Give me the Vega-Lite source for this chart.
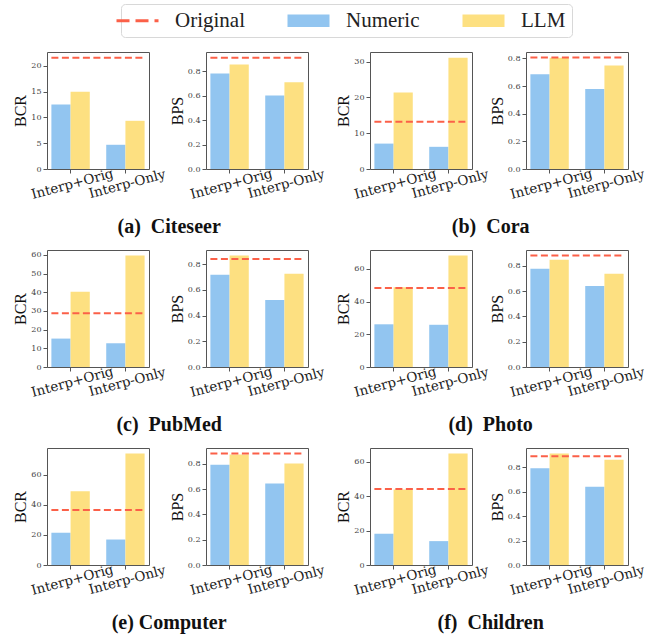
{
  "$schema": "https://vega.github.io/schema/vega-lite/v6.json",
  "padding": {"left": 12, "top": 3, "right": 5, "bottom": 3},
  "background": "white",
  "datasets": {
    "bars": [
      {"dataset": "Citeseer", "metric": "BCR", "setting": "Interp+Orig", "series": "Numeric", "value": 12.5},
      {"dataset": "Citeseer", "metric": "BCR", "setting": "Interp+Orig", "series": "LLM", "value": 15.0},
      {"dataset": "Citeseer", "metric": "BCR", "setting": "Interp-Only", "series": "Numeric", "value": 4.7},
      {"dataset": "Citeseer", "metric": "BCR", "setting": "Interp-Only", "series": "LLM", "value": 9.35},
      {"dataset": "Citeseer", "metric": "BPS", "setting": "Interp+Orig", "series": "Numeric", "value": 0.784},
      {"dataset": "Citeseer", "metric": "BPS", "setting": "Interp+Orig", "series": "LLM", "value": 0.858},
      {"dataset": "Citeseer", "metric": "BPS", "setting": "Interp-Only", "series": "Numeric", "value": 0.604},
      {"dataset": "Citeseer", "metric": "BPS", "setting": "Interp-Only", "series": "LLM", "value": 0.712},
      {"dataset": "Cora", "metric": "BCR", "setting": "Interp+Orig", "series": "Numeric", "value": 7.1},
      {"dataset": "Cora", "metric": "BCR", "setting": "Interp+Orig", "series": "LLM", "value": 21.4},
      {"dataset": "Cora", "metric": "BCR", "setting": "Interp-Only", "series": "Numeric", "value": 6.2},
      {"dataset": "Cora", "metric": "BCR", "setting": "Interp-Only", "series": "LLM", "value": 31.1},
      {"dataset": "Cora", "metric": "BPS", "setting": "Interp+Orig", "series": "Numeric", "value": 0.686},
      {"dataset": "Cora", "metric": "BPS", "setting": "Interp+Orig", "series": "LLM", "value": 0.805},
      {"dataset": "Cora", "metric": "BPS", "setting": "Interp-Only", "series": "Numeric", "value": 0.58},
      {"dataset": "Cora", "metric": "BPS", "setting": "Interp-Only", "series": "LLM", "value": 0.749},
      {"dataset": "PubMed", "metric": "BCR", "setting": "Interp+Orig", "series": "Numeric", "value": 15.2},
      {"dataset": "PubMed", "metric": "BCR", "setting": "Interp+Orig", "series": "LLM", "value": 40.3},
      {"dataset": "PubMed", "metric": "BCR", "setting": "Interp-Only", "series": "Numeric", "value": 12.7},
      {"dataset": "PubMed", "metric": "BCR", "setting": "Interp-Only", "series": "LLM", "value": 59.6},
      {"dataset": "PubMed", "metric": "BPS", "setting": "Interp+Orig", "series": "Numeric", "value": 0.717},
      {"dataset": "PubMed", "metric": "BPS", "setting": "Interp+Orig", "series": "LLM", "value": 0.866},
      {"dataset": "PubMed", "metric": "BPS", "setting": "Interp-Only", "series": "Numeric", "value": 0.52},
      {"dataset": "PubMed", "metric": "BPS", "setting": "Interp-Only", "series": "LLM", "value": 0.725},
      {"dataset": "Photo", "metric": "BCR", "setting": "Interp+Orig", "series": "Numeric", "value": 26.1},
      {"dataset": "Photo", "metric": "BCR", "setting": "Interp+Orig", "series": "LLM", "value": 48.8},
      {"dataset": "Photo", "metric": "BCR", "setting": "Interp-Only", "series": "Numeric", "value": 25.8},
      {"dataset": "Photo", "metric": "BCR", "setting": "Interp-Only", "series": "LLM", "value": 68.1},
      {"dataset": "Photo", "metric": "BPS", "setting": "Interp+Orig", "series": "Numeric", "value": 0.778},
      {"dataset": "Photo", "metric": "BPS", "setting": "Interp+Orig", "series": "LLM", "value": 0.848},
      {"dataset": "Photo", "metric": "BPS", "setting": "Interp-Only", "series": "Numeric", "value": 0.641},
      {"dataset": "Photo", "metric": "BPS", "setting": "Interp-Only", "series": "LLM", "value": 0.739},
      {"dataset": "Computer", "metric": "BCR", "setting": "Interp+Orig", "series": "Numeric", "value": 21.4},
      {"dataset": "Computer", "metric": "BCR", "setting": "Interp+Orig", "series": "LLM", "value": 48.9},
      {"dataset": "Computer", "metric": "BCR", "setting": "Interp-Only", "series": "Numeric", "value": 16.9},
      {"dataset": "Computer", "metric": "BCR", "setting": "Interp-Only", "series": "LLM", "value": 73.9},
      {"dataset": "Computer", "metric": "BPS", "setting": "Interp+Orig", "series": "Numeric", "value": 0.792},
      {"dataset": "Computer", "metric": "BPS", "setting": "Interp+Orig", "series": "LLM", "value": 0.872},
      {"dataset": "Computer", "metric": "BPS", "setting": "Interp-Only", "series": "Numeric", "value": 0.643},
      {"dataset": "Computer", "metric": "BPS", "setting": "Interp-Only", "series": "LLM", "value": 0.802},
      {"dataset": "Children", "metric": "BCR", "setting": "Interp+Orig", "series": "Numeric", "value": 18.2},
      {"dataset": "Children", "metric": "BCR", "setting": "Interp+Orig", "series": "LLM", "value": 44.0},
      {"dataset": "Children", "metric": "BCR", "setting": "Interp-Only", "series": "Numeric", "value": 13.9},
      {"dataset": "Children", "metric": "BCR", "setting": "Interp-Only", "series": "LLM", "value": 64.9},
      {"dataset": "Children", "metric": "BPS", "setting": "Interp+Orig", "series": "Numeric", "value": 0.792},
      {"dataset": "Children", "metric": "BPS", "setting": "Interp+Orig", "series": "LLM", "value": 0.913},
      {"dataset": "Children", "metric": "BPS", "setting": "Interp-Only", "series": "Numeric", "value": 0.641},
      {"dataset": "Children", "metric": "BPS", "setting": "Interp-Only", "series": "LLM", "value": 0.863}
    ],
    "orig": [
      {"dataset": "Citeseer", "metric": "BCR", "series": "Original", "from": "Interp+Orig", "to": "Interp-Only", "value": 21.6},
      {"dataset": "Citeseer", "metric": "BPS", "series": "Original", "from": "Interp+Orig", "to": "Interp-Only", "value": 0.913},
      {"dataset": "Cora", "metric": "BCR", "series": "Original", "from": "Interp+Orig", "to": "Interp-Only", "value": 13.2},
      {"dataset": "Cora", "metric": "BPS", "series": "Original", "from": "Interp+Orig", "to": "Interp-Only", "value": 0.807},
      {"dataset": "PubMed", "metric": "BCR", "series": "Original", "from": "Interp+Orig", "to": "Interp-Only", "value": 28.8},
      {"dataset": "PubMed", "metric": "BPS", "series": "Original", "from": "Interp+Orig", "to": "Interp-Only", "value": 0.839},
      {"dataset": "Photo", "metric": "BCR", "series": "Original", "from": "Interp+Orig", "to": "Interp-Only", "value": 48.3},
      {"dataset": "Photo", "metric": "BPS", "series": "Original", "from": "Interp+Orig", "to": "Interp-Only", "value": 0.882},
      {"dataset": "Computer", "metric": "BCR", "series": "Original", "from": "Interp+Orig", "to": "Interp-Only", "value": 36.4},
      {"dataset": "Computer", "metric": "BPS", "series": "Original", "from": "Interp+Orig", "to": "Interp-Only", "value": 0.88},
      {"dataset": "Children", "metric": "BCR", "series": "Original", "from": "Interp+Orig", "to": "Interp-Only", "value": 44.2},
      {"dataset": "Children", "metric": "BPS", "series": "Original", "from": "Interp+Orig", "to": "Interp-Only", "value": 0.891}
    ]
  },
  "spacing": 11,
  "vconcat": [
    {
      "spacing": 9,
      "hconcat": [
        {
          "spacing": 1,
          "title": {"text": "(a)\u00a0 Citeseer"},
          "hconcat": [
            {"width": 102, "height": 117, "layer": [
              {"data": {"name": "bars"}, "transform": [{"filter": "datum.dataset === 'Citeseer' && datum.metric === 'BCR'"}], "mark": "bar",
               "encoding": {
                 "x": {"field": "setting", "type": "nominal", "sort": ["Interp+Orig", "Interp-Only"], "scale": {"paddingInner": 0.3, "paddingOuter": 0.08}, "axis": {"title": null}},
                 "xOffset": {"field": "series", "type": "nominal", "sort": ["Numeric", "LLM"]},
                 "y": {"field": "value", "type": "quantitative", "scale": {"domain": [0, 22.7], "nice": false}, "axis": {"title": "BCR", "values": [0, 5, 10, 15, 20]}},
                 "color": {"field": "series", "type": "nominal",
                   "scale": {"domain": ["Original", "Numeric", "LLM"], "range": ["#fb6048", "#92c5f0", "#fde081"]},
                   "legend": {"orient": "none", "legendX": 74, "legendY": -48, "direction": "horizontal", "title": null,
                     "labelFont": "Liberation Serif", "labelFontSize": 21, "labelColor": "#222", "symbolSize": 1764,
                     "labelOffset": 27, "columnPadding": 42, "padding": 6, "strokeColor": "#d8d8d8", "cornerRadius": 4,
                     "encode": {"symbols": {"update": {
                       "shape": {"signal": "datum.value === 'Original' ? 'M-1,0H1' : 'M-1,-0.3H1V0.3H-1Z'"},
                       "fill": {"signal": "datum.value === 'Original' ? 'transparent' : scale('color', datum.value)"},
                       "stroke": {"signal": "scale('color', datum.value)"},
                       "strokeDash": {"signal": "datum.value === 'Original' ? [13, 6] : [1, 0]"},
                       "strokeWidth": {"signal": "datum.value === 'Original' ? 3 : 0"},
                       "opacity": {"value": 1}
                     }}}}}
               }},
              {"data": {"name": "orig"}, "transform": [{"filter": "datum.dataset === 'Citeseer' && datum.metric === 'BCR'"}], "mark": {"type": "rule", "strokeDash": [7, 3.5], "strokeWidth": 2},
               "encoding": {"x": {"field": "from", "type": "nominal", "bandPosition": 0}, "x2": {"field": "to", "bandPosition": 1}, "y": {"field": "value", "type": "quantitative", "axis": {"title": "BCR", "values": [0, 5, 10, 15, 20]}}, "color": {"field": "series", "type": "nominal"}}}
            ]},
            {"width": 102, "height": 117, "layer": [
              {"data": {"name": "bars"}, "transform": [{"filter": "datum.dataset === 'Citeseer' && datum.metric === 'BPS'"}], "mark": "bar",
               "encoding": {
                 "x": {"field": "setting", "type": "nominal", "sort": ["Interp+Orig", "Interp-Only"], "scale": {"paddingInner": 0.3, "paddingOuter": 0.08}, "axis": {"title": null}},
                 "xOffset": {"field": "series", "type": "nominal", "sort": ["Numeric", "LLM"]},
                 "y": {"field": "value", "type": "quantitative", "scale": {"domain": [0, 0.96], "nice": false}, "axis": {"title": "BPS", "values": [0, 0.2, 0.4, 0.6, 0.8], "format": ".1f"}},
                 "color": {"field": "series", "type": "nominal"}
               }},
              {"data": {"name": "orig"}, "transform": [{"filter": "datum.dataset === 'Citeseer' && datum.metric === 'BPS'"}], "mark": {"type": "rule", "strokeDash": [7, 3.5], "strokeWidth": 2},
               "encoding": {"x": {"field": "from", "type": "nominal", "bandPosition": 0}, "x2": {"field": "to", "bandPosition": 1}, "y": {"field": "value", "type": "quantitative", "axis": {"title": "BPS", "values": [0, 0.2, 0.4, 0.6, 0.8], "format": ".1f"}}, "color": {"field": "series", "type": "nominal"}}}
            ]}
          ]
        },
        {
          "spacing": -2,
          "title": {"text": "(b)\u00a0 Cora"},
          "hconcat": [
            {"width": 102, "height": 117, "layer": [
              {"data": {"name": "bars"}, "transform": [{"filter": "datum.dataset === 'Cora' && datum.metric === 'BCR'"}], "mark": "bar",
               "encoding": {
                 "x": {"field": "setting", "type": "nominal", "sort": ["Interp+Orig", "Interp-Only"], "scale": {"paddingInner": 0.3, "paddingOuter": 0.08}, "axis": {"title": null}},
                 "xOffset": {"field": "series", "type": "nominal", "sort": ["Numeric", "LLM"]},
                 "y": {"field": "value", "type": "quantitative", "scale": {"domain": [0, 32.7], "nice": false}, "axis": {"title": "BCR", "values": [0, 10, 20, 30]}},
                 "color": {"field": "series", "type": "nominal"}
               }},
              {"data": {"name": "orig"}, "transform": [{"filter": "datum.dataset === 'Cora' && datum.metric === 'BCR'"}], "mark": {"type": "rule", "strokeDash": [7, 3.5], "strokeWidth": 2},
               "encoding": {"x": {"field": "from", "type": "nominal", "bandPosition": 0}, "x2": {"field": "to", "bandPosition": 1}, "y": {"field": "value", "type": "quantitative", "axis": {"title": "BCR", "values": [0, 10, 20, 30]}}, "color": {"field": "series", "type": "nominal"}}}
            ]},
            {"width": 102, "height": 117, "layer": [
              {"data": {"name": "bars"}, "transform": [{"filter": "datum.dataset === 'Cora' && datum.metric === 'BPS'"}], "mark": "bar",
               "encoding": {
                 "x": {"field": "setting", "type": "nominal", "sort": ["Interp+Orig", "Interp-Only"], "scale": {"paddingInner": 0.3, "paddingOuter": 0.08}, "axis": {"title": null}},
                 "xOffset": {"field": "series", "type": "nominal", "sort": ["Numeric", "LLM"]},
                 "y": {"field": "value", "type": "quantitative", "scale": {"domain": [0, 0.847], "nice": false}, "axis": {"title": "BPS", "values": [0, 0.2, 0.4, 0.6, 0.8], "format": ".1f"}},
                 "color": {"field": "series", "type": "nominal"}
               }},
              {"data": {"name": "orig"}, "transform": [{"filter": "datum.dataset === 'Cora' && datum.metric === 'BPS'"}], "mark": {"type": "rule", "strokeDash": [7, 3.5], "strokeWidth": 2},
               "encoding": {"x": {"field": "from", "type": "nominal", "bandPosition": 0}, "x2": {"field": "to", "bandPosition": 1}, "y": {"field": "value", "type": "quantitative", "axis": {"title": "BPS", "values": [0, 0.2, 0.4, 0.6, 0.8], "format": ".1f"}}, "color": {"field": "series", "type": "nominal"}}}
            ]}
          ]
        }
      ]
    },
    {
      "spacing": 9,
      "hconcat": [
        {
          "spacing": 1,
          "title": {"text": "(c)\u00a0 PubMed"},
          "hconcat": [
            {"width": 102, "height": 117, "layer": [
              {"data": {"name": "bars"}, "transform": [{"filter": "datum.dataset === 'PubMed' && datum.metric === 'BCR'"}], "mark": "bar",
               "encoding": {
                 "x": {"field": "setting", "type": "nominal", "sort": ["Interp+Orig", "Interp-Only"], "scale": {"paddingInner": 0.3, "paddingOuter": 0.08}, "axis": {"title": null}},
                 "xOffset": {"field": "series", "type": "nominal", "sort": ["Numeric", "LLM"]},
                 "y": {"field": "value", "type": "quantitative", "scale": {"domain": [0, 62.6], "nice": false}, "axis": {"title": "BCR", "values": [0, 10, 20, 30, 40, 50, 60]}},
                 "color": {"field": "series", "type": "nominal"}
               }},
              {"data": {"name": "orig"}, "transform": [{"filter": "datum.dataset === 'PubMed' && datum.metric === 'BCR'"}], "mark": {"type": "rule", "strokeDash": [7, 3.5], "strokeWidth": 2},
               "encoding": {"x": {"field": "from", "type": "nominal", "bandPosition": 0}, "x2": {"field": "to", "bandPosition": 1}, "y": {"field": "value", "type": "quantitative", "axis": {"title": "BCR", "values": [0, 10, 20, 30, 40, 50, 60]}}, "color": {"field": "series", "type": "nominal"}}}
            ]},
            {"width": 102, "height": 117, "layer": [
              {"data": {"name": "bars"}, "transform": [{"filter": "datum.dataset === 'PubMed' && datum.metric === 'BPS'"}], "mark": "bar",
               "encoding": {
                 "x": {"field": "setting", "type": "nominal", "sort": ["Interp+Orig", "Interp-Only"], "scale": {"paddingInner": 0.3, "paddingOuter": 0.08}, "axis": {"title": null}},
                 "xOffset": {"field": "series", "type": "nominal", "sort": ["Numeric", "LLM"]},
                 "y": {"field": "value", "type": "quantitative", "scale": {"domain": [0, 0.909], "nice": false}, "axis": {"title": "BPS", "values": [0, 0.2, 0.4, 0.6, 0.8], "format": ".1f"}},
                 "color": {"field": "series", "type": "nominal"}
               }},
              {"data": {"name": "orig"}, "transform": [{"filter": "datum.dataset === 'PubMed' && datum.metric === 'BPS'"}], "mark": {"type": "rule", "strokeDash": [7, 3.5], "strokeWidth": 2},
               "encoding": {"x": {"field": "from", "type": "nominal", "bandPosition": 0}, "x2": {"field": "to", "bandPosition": 1}, "y": {"field": "value", "type": "quantitative", "axis": {"title": "BPS", "values": [0, 0.2, 0.4, 0.6, 0.8], "format": ".1f"}}, "color": {"field": "series", "type": "nominal"}}}
            ]}
          ]
        },
        {
          "spacing": -2,
          "title": {"text": "(d)\u00a0 Photo"},
          "hconcat": [
            {"width": 102, "height": 117, "layer": [
              {"data": {"name": "bars"}, "transform": [{"filter": "datum.dataset === 'Photo' && datum.metric === 'BCR'"}], "mark": "bar",
               "encoding": {
                 "x": {"field": "setting", "type": "nominal", "sort": ["Interp+Orig", "Interp-Only"], "scale": {"paddingInner": 0.3, "paddingOuter": 0.08}, "axis": {"title": null}},
                 "xOffset": {"field": "series", "type": "nominal", "sort": ["Numeric", "LLM"]},
                 "y": {"field": "value", "type": "quantitative", "scale": {"domain": [0, 71.5], "nice": false}, "axis": {"title": "BCR", "values": [0, 20, 40, 60]}},
                 "color": {"field": "series", "type": "nominal"}
               }},
              {"data": {"name": "orig"}, "transform": [{"filter": "datum.dataset === 'Photo' && datum.metric === 'BCR'"}], "mark": {"type": "rule", "strokeDash": [7, 3.5], "strokeWidth": 2},
               "encoding": {"x": {"field": "from", "type": "nominal", "bandPosition": 0}, "x2": {"field": "to", "bandPosition": 1}, "y": {"field": "value", "type": "quantitative", "axis": {"title": "BCR", "values": [0, 20, 40, 60]}}, "color": {"field": "series", "type": "nominal"}}}
            ]},
            {"width": 102, "height": 117, "layer": [
              {"data": {"name": "bars"}, "transform": [{"filter": "datum.dataset === 'Photo' && datum.metric === 'BPS'"}], "mark": "bar",
               "encoding": {
                 "x": {"field": "setting", "type": "nominal", "sort": ["Interp+Orig", "Interp-Only"], "scale": {"paddingInner": 0.3, "paddingOuter": 0.08}, "axis": {"title": null}},
                 "xOffset": {"field": "series", "type": "nominal", "sort": ["Numeric", "LLM"]},
                 "y": {"field": "value", "type": "quantitative", "scale": {"domain": [0, 0.926], "nice": false}, "axis": {"title": "BPS", "values": [0, 0.2, 0.4, 0.6, 0.8], "format": ".1f"}},
                 "color": {"field": "series", "type": "nominal"}
               }},
              {"data": {"name": "orig"}, "transform": [{"filter": "datum.dataset === 'Photo' && datum.metric === 'BPS'"}], "mark": {"type": "rule", "strokeDash": [7, 3.5], "strokeWidth": 2},
               "encoding": {"x": {"field": "from", "type": "nominal", "bandPosition": 0}, "x2": {"field": "to", "bandPosition": 1}, "y": {"field": "value", "type": "quantitative", "axis": {"title": "BPS", "values": [0, 0.2, 0.4, 0.6, 0.8], "format": ".1f"}}, "color": {"field": "series", "type": "nominal"}}}
            ]}
          ]
        }
      ]
    },
    {
      "spacing": 9,
      "hconcat": [
        {
          "spacing": 1,
          "title": {"text": "(e) Computer"},
          "hconcat": [
            {"width": 102, "height": 117, "layer": [
              {"data": {"name": "bars"}, "transform": [{"filter": "datum.dataset === 'Computer' && datum.metric === 'BCR'"}], "mark": "bar",
               "encoding": {
                 "x": {"field": "setting", "type": "nominal", "sort": ["Interp+Orig", "Interp-Only"], "scale": {"paddingInner": 0.3, "paddingOuter": 0.08}, "axis": {"title": null}},
                 "xOffset": {"field": "series", "type": "nominal", "sort": ["Numeric", "LLM"]},
                 "y": {"field": "value", "type": "quantitative", "scale": {"domain": [0, 77.6], "nice": false}, "axis": {"title": "BCR", "values": [0, 20, 40, 60]}},
                 "color": {"field": "series", "type": "nominal"}
               }},
              {"data": {"name": "orig"}, "transform": [{"filter": "datum.dataset === 'Computer' && datum.metric === 'BCR'"}], "mark": {"type": "rule", "strokeDash": [7, 3.5], "strokeWidth": 2},
               "encoding": {"x": {"field": "from", "type": "nominal", "bandPosition": 0}, "x2": {"field": "to", "bandPosition": 1}, "y": {"field": "value", "type": "quantitative", "axis": {"title": "BCR", "values": [0, 20, 40, 60]}}, "color": {"field": "series", "type": "nominal"}}}
            ]},
            {"width": 102, "height": 117, "layer": [
              {"data": {"name": "bars"}, "transform": [{"filter": "datum.dataset === 'Computer' && datum.metric === 'BPS'"}], "mark": "bar",
               "encoding": {
                 "x": {"field": "setting", "type": "nominal", "sort": ["Interp+Orig", "Interp-Only"], "scale": {"paddingInner": 0.3, "paddingOuter": 0.08}, "axis": {"title": null}},
                 "xOffset": {"field": "series", "type": "nominal", "sort": ["Numeric", "LLM"]},
                 "y": {"field": "value", "type": "quantitative", "scale": {"domain": [0, 0.924], "nice": false}, "axis": {"title": "BPS", "values": [0, 0.2, 0.4, 0.6, 0.8], "format": ".1f"}},
                 "color": {"field": "series", "type": "nominal"}
               }},
              {"data": {"name": "orig"}, "transform": [{"filter": "datum.dataset === 'Computer' && datum.metric === 'BPS'"}], "mark": {"type": "rule", "strokeDash": [7, 3.5], "strokeWidth": 2},
               "encoding": {"x": {"field": "from", "type": "nominal", "bandPosition": 0}, "x2": {"field": "to", "bandPosition": 1}, "y": {"field": "value", "type": "quantitative", "axis": {"title": "BPS", "values": [0, 0.2, 0.4, 0.6, 0.8], "format": ".1f"}}, "color": {"field": "series", "type": "nominal"}}}
            ]}
          ]
        },
        {
          "spacing": -2,
          "title": {"text": "(f)\u00a0 Children"},
          "hconcat": [
            {"width": 102, "height": 117, "layer": [
              {"data": {"name": "bars"}, "transform": [{"filter": "datum.dataset === 'Children' && datum.metric === 'BCR'"}], "mark": "bar",
               "encoding": {
                 "x": {"field": "setting", "type": "nominal", "sort": ["Interp+Orig", "Interp-Only"], "scale": {"paddingInner": 0.3, "paddingOuter": 0.08}, "axis": {"title": null}},
                 "xOffset": {"field": "series", "type": "nominal", "sort": ["Numeric", "LLM"]},
                 "y": {"field": "value", "type": "quantitative", "scale": {"domain": [0, 68.1], "nice": false}, "axis": {"title": "BCR", "values": [0, 20, 40, 60]}},
                 "color": {"field": "series", "type": "nominal"}
               }},
              {"data": {"name": "orig"}, "transform": [{"filter": "datum.dataset === 'Children' && datum.metric === 'BCR'"}], "mark": {"type": "rule", "strokeDash": [7, 3.5], "strokeWidth": 2},
               "encoding": {"x": {"field": "from", "type": "nominal", "bandPosition": 0}, "x2": {"field": "to", "bandPosition": 1}, "y": {"field": "value", "type": "quantitative", "axis": {"title": "BCR", "values": [0, 20, 40, 60]}}, "color": {"field": "series", "type": "nominal"}}}
            ]},
            {"width": 102, "height": 117, "layer": [
              {"data": {"name": "bars"}, "transform": [{"filter": "datum.dataset === 'Children' && datum.metric === 'BPS'"}], "mark": "bar",
               "encoding": {
                 "x": {"field": "setting", "type": "nominal", "sort": ["Interp+Orig", "Interp-Only"], "scale": {"paddingInner": 0.3, "paddingOuter": 0.08}, "axis": {"title": null}},
                 "xOffset": {"field": "series", "type": "nominal", "sort": ["Numeric", "LLM"]},
                 "y": {"field": "value", "type": "quantitative", "scale": {"domain": [0, 0.959], "nice": false}, "axis": {"title": "BPS", "values": [0, 0.2, 0.4, 0.6, 0.8], "format": ".1f"}},
                 "color": {"field": "series", "type": "nominal"}
               }},
              {"data": {"name": "orig"}, "transform": [{"filter": "datum.dataset === 'Children' && datum.metric === 'BPS'"}], "mark": {"type": "rule", "strokeDash": [7, 3.5], "strokeWidth": 2},
               "encoding": {"x": {"field": "from", "type": "nominal", "bandPosition": 0}, "x2": {"field": "to", "bandPosition": 1}, "y": {"field": "value", "type": "quantitative", "axis": {"title": "BPS", "values": [0, 0.2, 0.4, 0.6, 0.8], "format": ".1f"}}, "color": {"field": "series", "type": "nominal"}}}
            ]}
          ]
        }
      ]
    }
  ],
  "config": {
    "view": {"stroke": "#555", "strokeWidth": 1},
    "bar": {"opacity": 1},
    "axis": {"grid": false, "domain": false, "labelFont": "DejaVu Serif", "labelFontSize": 8, "labelColor": "#444", "tickColor": "#555", "tickSize": 4, "labelPadding": 2,
      "titleFont": "Liberation Serif", "titleFontWeight": "normal", "titleFontSize": 16, "titleColor": "#111"},
    "axisX": {"labelAngle": -15, "labelFontSize": 13.5, "labelColor": "#222", "labelAlign": "center", "labelBaseline": "top", "labelOverlap": false, "tickSize": 4, "labelPadding": 4},
    "axisY": {"titlePadding": 2},
    "title": {"orient": "bottom", "anchor": "middle", "font": "Liberation Serif", "fontSize": 20, "fontWeight": "bold", "color": "#111", "offset": 16}
  }
}
